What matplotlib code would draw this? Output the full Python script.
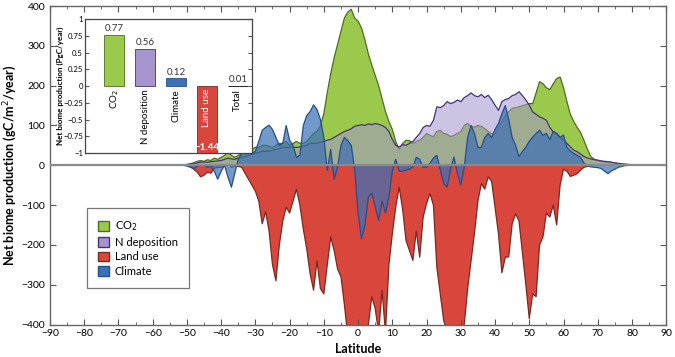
"""Net biome production by latitude, with global totals inset."""

import matplotlib

matplotlib.use("Agg")
import matplotlib.pyplot as plt
from matplotlib.patches import Patch
from matplotlib.ticker import FuncFormatter, MultipleLocator

plt.rcParams["font.family"] = ["Lato", "DejaVu Sans"]
plt.rcParams["axes.unicode_minus"] = True

latitude = list(range(-52, 86))

co2 = [
    0, 0, 2, 4, 6, 10, 12, 10, 14, 12,
    18, 15, 20, 25, 32, 25, 20, 25, 30, 35,
    40, 40, 45, 45, 50, 50, 48, 45, 50, 55,
    55, 60, 50, 55, 60, 55, 55, 60, 70, 80,
    85, 100, 130, 183, 230, 270, 303, 335, 370, 385,
    392, 370, 362, 345, 315, 280, 252, 226, 200, 168,
    135, 110, 90, 60, 40, 55, 63, 62, 55, 60,
    63, 70, 80, 75, 72, 85, 88, 80, 78, 72,
    75, 80, 85, 100, 105, 98, 96, 100, 98, 92,
    85, 80, 78, 95, 110, 125, 135, 143, 145, 147,
    150, 152, 155, 155, 182, 210, 205, 195, 190, 205,
    218, 222, 195, 160, 128, 110, 95, 82, 62, 40,
    22, 15, 12, 10, 8, 8, 7, 6, 4, 3,
    2, 2, 1, 1, 1, 1, 0, 0,
]

n_deposition = [
    0, 0, 2, 3, 5, 6, 8, 8, 8, 9,
    10, 11, 12, 15, 18, 16, 15, 18, 20, 22,
    25, 28, 30, 32, 35, 35, 35, 38, 40, 42,
    45, 45, 45, 45, 45, 46, 48, 50, 55, 55,
    55, 58, 60, 63, 65, 70, 75, 80, 85, 88,
    92, 98, 100, 102, 100, 104, 102, 105, 103, 100,
    95, 85, 65, 50, 46, 52, 50, 55, 60, 70,
    80, 95, 100, 98, 113, 147, 145, 150, 160, 155,
    158, 164, 160, 170, 175, 182, 175, 172, 178, 170,
    176, 165, 151, 138, 160, 165, 168, 175, 178, 185,
    175, 164, 151, 134, 128, 122, 118, 113, 95, 84,
    80, 70, 63, 55, 46, 38, 34, 28, 22, 18,
    16, 14, 13, 11, 10, 9, 8, 6, 5, 4,
    3, 2, 1, 0, 0, 0, 0, 0,
]

climate = [
    0, 0, -2, -5, -8, -3, 2, 0, -5, -3,
    -15, -35, -15, 0, -30, -55, -20, 15, 30, 45,
    40, 30, 35, 60, 88, 95, 101, 90, 70, 50,
    55, 100, 63, 50, 20, 25, 100, 125, 135, 152,
    140, 115, 70, -13, 40, -35, -5, 50, 70, 62,
    50, -10, -120, -185, -150, -80, -70, -105, -138, -90,
    -120, -80, -15, 15, -15, -15, -12, -10, -4, 20,
    15, -5, -5, 5, 18, 25, -10, -46, -55, -10,
    21, -20, -50, -5, 70, 100, 80, 45, 45, 70,
    80, 70, 90, 105, 130, 150, 115, 70, 50, 22,
    35, 46, 60, 71, 80, 88, 75, 80, 65, 85,
    80, 70, 76, 45, 36, 30, 25, 20, 5, -2,
    -4, -5, -6, -8, -15, -21, -14, -10, -5, -3,
    -1, 0, 0, 0, 0, 0, 0, 0,
]

land_use = [
    0, 0, 0, -3, -10, -17, -29, -25, -17, -20,
    -8, -5, -5, -3, 15, -5, -2, -3, -5, -20,
    -35, -50, -65, -90, -147, -117, -165, -250, -290, -200,
    -140, -105, -120, -90, -60, -100, -160, -210, -273, -314,
    -240, -310, -323, -250, -180, -214, -260, -280, -350, -430,
    -430, -430, -420, -430, -430, -400, -330, -360, -420, -314,
    -420, -250, -172, -105, -55, -110, -189, -214, -239, -165,
    -231, -130, -96, -71, -100, -256, -323, -390, -420, -430,
    -430, -430, -430, -400, -310, -240, -170, -90, -46, -60,
    -29, -40, -105, -172, -270, -231, -230, -147, -122, -140,
    -220, -300, -385, -323, -330, -200, -180, -120, -130, -100,
    -150, -50, -10, -15, -28, -25, -21, -12, -5, -3,
    -1, 0, 0, 0, 0, 0, 0, 0, 0, 0,
    0, 0, 0, 0, 0, 0, 0, 0,
]

bar_names = ["CO$_2$", "N deposition", "Climate", "Land use", "Total"]
bar_values = [0.77, 0.56, 0.12, -1.44, 0.01]

GREEN, GREEN_EDGE = "#9bc94b", "#4f6d22"
PURPLE, PURPLE_EDGE = "#a595cc", "#46337a"
BLUE, BLUE_EDGE = "#3d70b6", "#22508e"
RED, RED_EDGE = "#d9473c", "#7a2a22"

fig = plt.figure(figsize=(6.75, 3.57), dpi=100)
ax = fig.add_axes([0.074, 0.091, 0.913, 0.892])

# back to front: land use, CO2, N deposition, climate
layers = [
    (land_use, RED, RED_EDGE, 1.0),
    (co2, GREEN, GREEN_EDGE, 1.0),
    (n_deposition, PURPLE, PURPLE_EDGE, 0.55),
    (climate, BLUE, BLUE_EDGE, 0.72),
]
for z, (vals, fc, ec, alpha) in enumerate(layers):
    ax.fill_between(latitude, 0, vals, facecolor=fc, edgecolor="none", alpha=alpha, zorder=1 + z)
    ax.plot(latitude, vals, color=ec, lw=0.9, zorder=1 + z)

ax.axhline(0, color="#8a8a8a", lw=1.6, zorder=10)

ax.set_xlim(-90, 90)
ax.set_ylim(-400, 400)
ax.xaxis.set_major_locator(MultipleLocator(10))
ax.xaxis.set_minor_locator(MultipleLocator(5))
ax.yaxis.set_major_locator(MultipleLocator(100))
ax.tick_params(which="both", direction="in", top=True, right=True, labelsize=7.5, color="#555555")
ax.tick_params(which="major", length=4)
ax.tick_params(which="minor", length=2)
for sp in ax.spines.values():
    sp.set_color("#666666")
    sp.set_linewidth(1.0)
ax.set_xlabel("Latitude", fontsize=9, fontweight="bold", labelpad=3)
ax.set_ylabel("Net biome production (gC/m$^2$/year)", fontsize=9, fontweight="bold")
ax.yaxis.set_label_coords(-0.05, 0.5)

handles = [
    Patch(facecolor=GREEN, edgecolor=GREEN_EDGE, label="CO$_2$"),
    Patch(facecolor=PURPLE, edgecolor=PURPLE_EDGE, label="N deposition"),
    Patch(facecolor=RED, edgecolor=RED_EDGE, label="Land use"),
    Patch(facecolor=BLUE, edgecolor=BLUE_EDGE, label="Climate"),
]
leg = ax.legend(
    handles=handles, loc="upper left", bbox_to_anchor=(0.06, 0.365),
    fontsize=8, frameon=True, fancybox=False, edgecolor="#555555",
    handlelength=1.0, handleheight=1.0, handletextpad=0.5, labelspacing=0.32,
    borderpad=1.0, borderaxespad=0.0,
)
leg.get_frame().set_linewidth(0.9)

# inset: global totals
ins = fig.add_axes([0.126, 0.571, 0.247, 0.375])
ins.set_facecolor("white")
bar_colors = [GREEN, PURPLE, BLUE, RED, "black"]
bar_edges = [GREEN_EDGE, PURPLE_EDGE, BLUE_EDGE, RED_EDGE, "black"]
xs = list(range(len(bar_values)))
ins.bar(xs, bar_values, width=0.66, color=bar_colors, edgecolor=bar_edges, linewidth=0.6)
ins.set_xlim(-0.94, 4.45)
ins.set_ylim(-1, 1)
ins.yaxis.set_major_locator(MultipleLocator(0.25))
ins.yaxis.set_major_formatter(FuncFormatter(lambda v, _: f"{v:g}".replace("-", "\u2212")))
ins.set_xticks([])
ins.tick_params(axis="y", direction="in", right=True, labelsize=5.6, length=3, pad=1.5, color="#555555")
for sp in ins.spines.values():
    sp.set_color("#444444")
    sp.set_linewidth(0.9)
ins.set_ylabel("Net biome production (PgC/year)", fontsize=5.8, fontweight="bold")
ins.yaxis.set_label_coords(-0.125, 0.5)

for x, v, name in zip(xs, bar_values, bar_names):
    if v > 0:
        ins.text(x, v + 0.02, f"{v:.2f}", ha="center", va="bottom", fontsize=7, color="#333333")
        ins.text(x, -0.04, name, rotation=90, ha="center", va="top", fontsize=7, color="black")
    else:
        ins.text(x, -0.98, f"{v:.2f}".replace("-", "\u2212"), ha="center", va="bottom",
                 fontsize=7, color="white", fontweight="bold")
        ins.text(x, -0.04, name, rotation=90, ha="center", va="top", fontsize=7, color="white")

fig.savefig("out.png", dpi=100)
